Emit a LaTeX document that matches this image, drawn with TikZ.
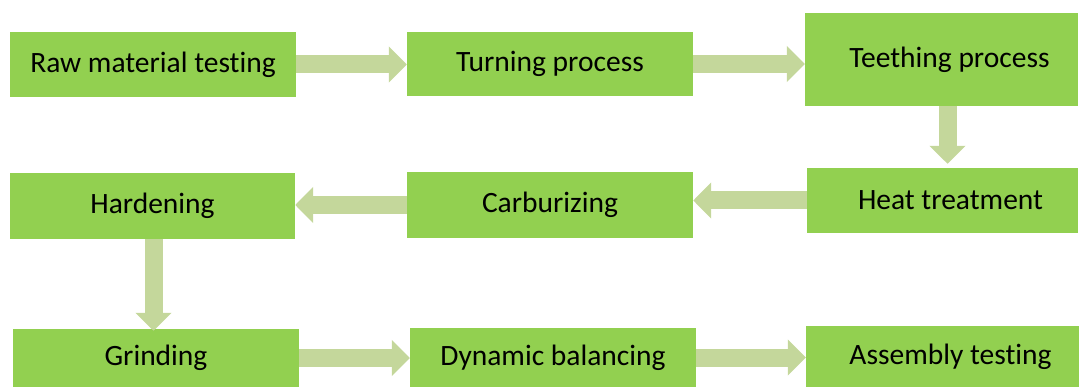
\documentclass[tikz,border=0pt]{standalone}
\usepackage{fontspec}
\setmainfont{Carlito}[Ligatures=CommonOff]
\usetikzlibrary{arrows.meta}
\definecolor{boxgreen}{HTML}{92D050}
\definecolor{arrowgreen}{HTML}{C4D79B}
\tikzset{
  stagebox/.style={fill=boxgreen, draw=none, inner sep=0pt, font=\fontsize{29.5}{33}\selectfont},
  rightbox/.style={stagebox, execute at begin node=\hspace*{16pt}},
  flowarrow/.style={draw=arrowgreen, line width=18pt, -{Triangle[length=18pt, width=35pt, fill=arrowgreen]}}
}
\begin{document}
\begin{tikzpicture}[x=1pt, y=-1pt]
  \useasboundingbox (0,0) rectangle (1079,387);

  % first row
  \node[stagebox, minimum width=286pt, minimum height=65pt] (raw)      at (153,64.5)   {Raw material testing};
  \node[stagebox, minimum width=286pt, minimum height=64pt] (turning)  at (550,64)     {Turning process};
  \node[rightbox, minimum width=273pt, minimum height=93pt] (teething) at (941.5,59.5) {Teething process};

  % second row
  \node[rightbox, minimum width=271pt, minimum height=65pt] (heat)     at (942.5,200.5) {Heat treatment};
  \node[stagebox, minimum width=286pt, minimum height=66pt] (carb)     at (550,205)     {Carburizing};
  \node[stagebox, minimum width=285pt, minimum height=66pt] (hard)     at (152.5,206)   {Hardening};

  % third row
  \node[stagebox, minimum width=286pt, minimum height=58pt] (grind)    at (156,358)     {Grinding};
  \node[stagebox, minimum width=286pt, minimum height=59pt] (dynamic)  at (553,357.5)   {Dynamic balancing};
  \node[rightbox, minimum width=273pt, minimum height=61pt] (assembly) at (942.5,356.5) {Assembly testing};

  % arrows
  \draw[flowarrow] (raw.east) -- (raw.east -| turning.west);
  \draw[flowarrow] (turning.east) -- (turning.east -| teething.west);
  \draw[flowarrow] ([xshift=6pt]teething.south) -- ([xshift=6pt,yshift=4pt]teething.south |- heat.north);
  \draw[flowarrow] (heat.west) -- (heat.west -| carb.east);
  \draw[flowarrow] (carb.west) -- (carb.west -| hard.east);
  \draw[flowarrow] ([xshift=1pt]hard.south) -- ([xshift=1pt,yshift=-2pt]hard.south |- grind.north);
  \draw[flowarrow] (grind.east) -- (grind.east -| dynamic.west);
  \draw[flowarrow] (dynamic.east) -- (dynamic.east -| assembly.west);
\end{tikzpicture}
\end{document}
